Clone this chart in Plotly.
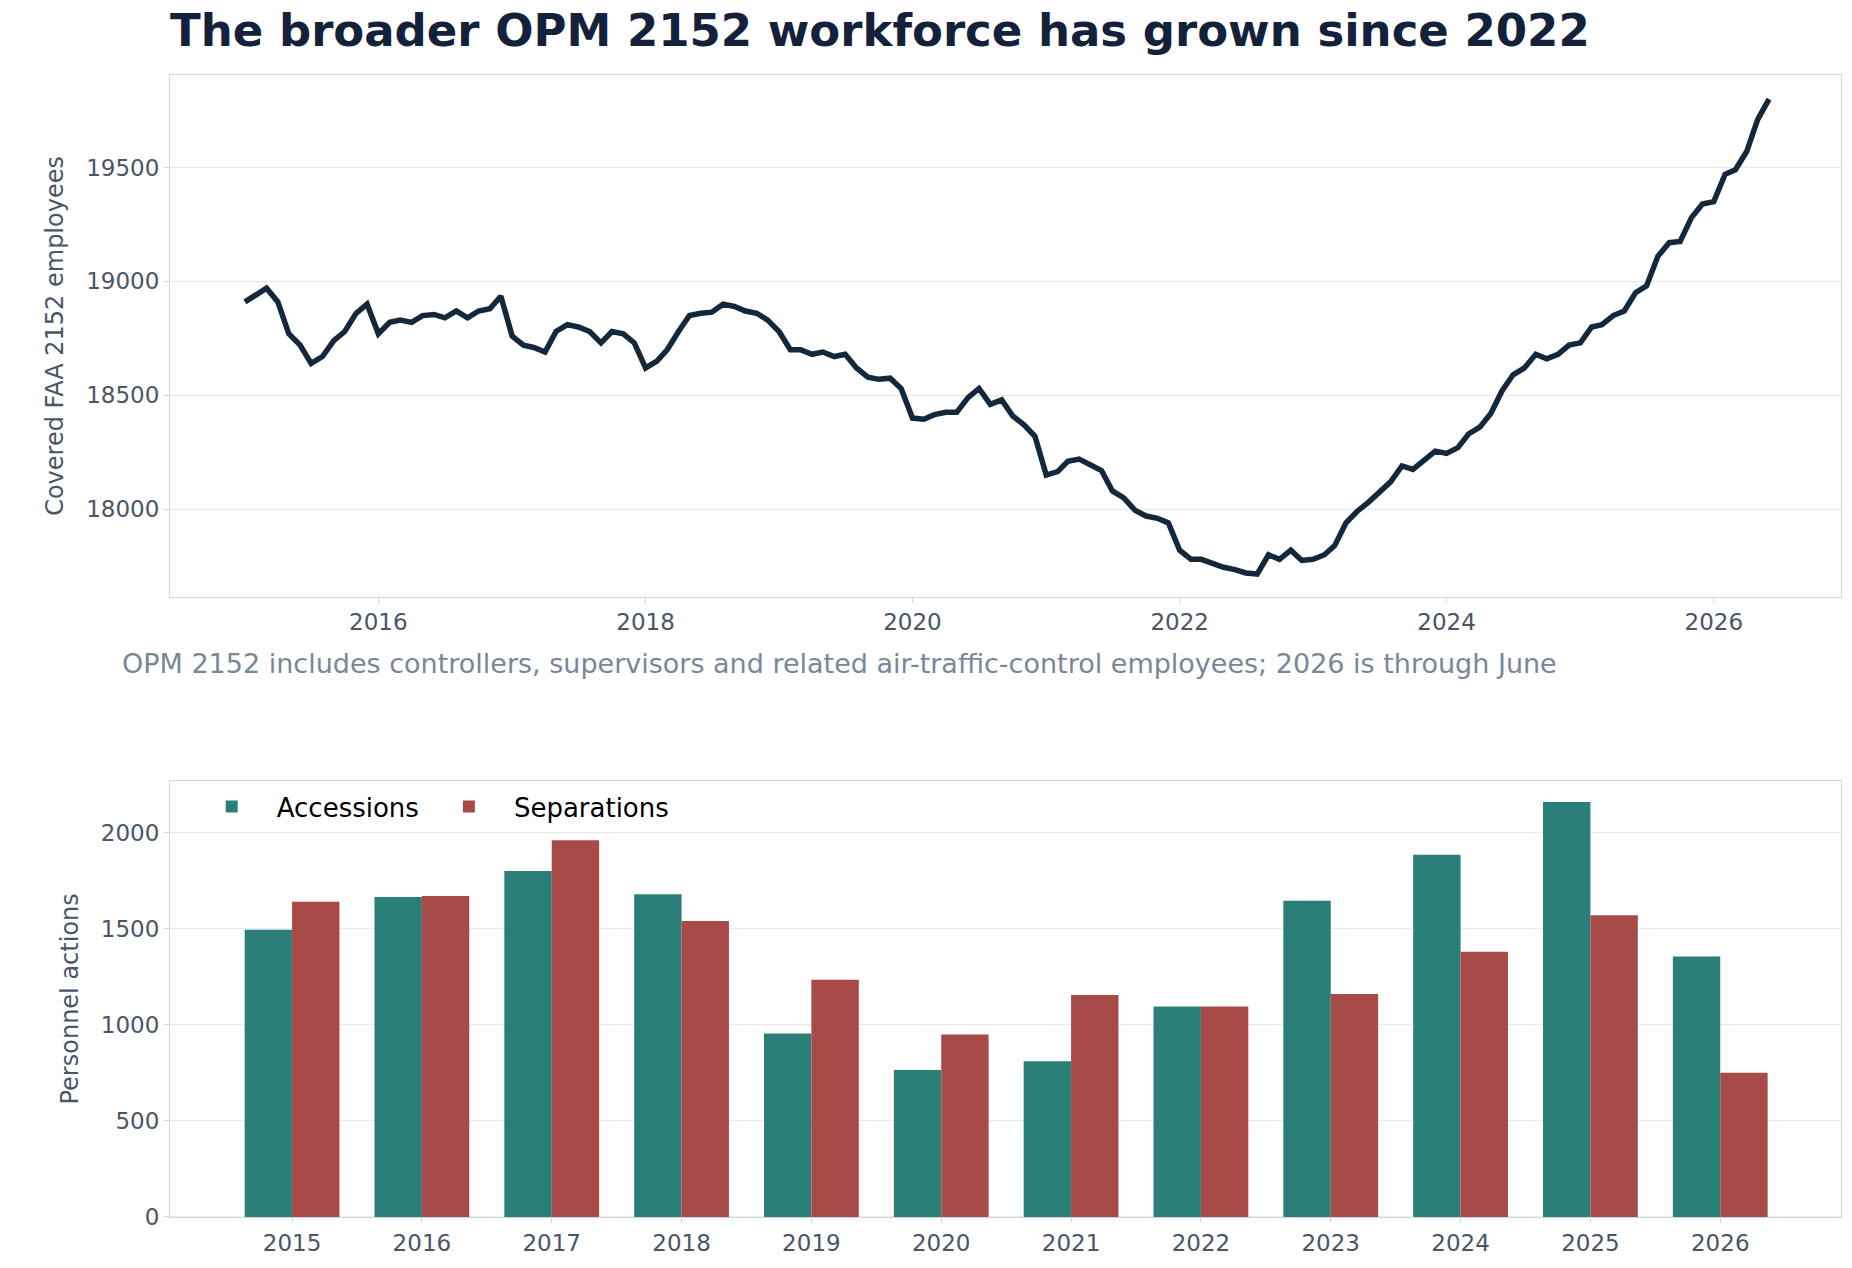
import pandas as pd
import plotly.graph_objects as go
from plotly.subplots import make_subplots

# Monthly headcount, Jan 2015 - Jun 2026
headcount = [
    18910, 18940, 18970, 18910, 18770, 18720, 18640, 18670, 18740, 18780, 18860, 18900,
    18770, 18820, 18830, 18820, 18850, 18855, 18840, 18870, 18840, 18870, 18880, 18935,
    18760, 18720, 18710, 18690, 18780, 18810, 18800, 18780, 18730, 18780, 18770, 18730,
    18620, 18650, 18700, 18780, 18850, 18860, 18865, 18900, 18890, 18870, 18860, 18830,
    18780, 18700, 18700, 18680, 18690, 18670, 18680, 18620, 18580, 18570, 18575, 18530,
    18400, 18395, 18415, 18425, 18425, 18490, 18530, 18460, 18480, 18410, 18370, 18320,
    18150, 18165, 18210, 18220, 18195, 18170, 18080, 18050, 17995, 17970, 17960, 17940,
    17820, 17780, 17780, 17760, 17745, 17735, 17720, 17715, 17800, 17780, 17820, 17775,
    17780, 17800, 17840, 17940, 17990, 18030, 18075, 18120, 18190, 18175, 18215, 18255,
    18245, 18270, 18330, 18360, 18420, 18520, 18590, 18620, 18680, 18660, 18680, 18720,
    18730, 18800, 18810, 18850, 18870, 18950, 18980, 19110, 19170, 19175, 19280, 19340,
    19350, 19470, 19490, 19570, 19710, 19800,
]
months = pd.date_range("2015-01-01", periods=len(headcount), freq="MS")

years = [str(y) for y in range(2015, 2027)]
accessions = [1495, 1665, 1800, 1680, 955, 765, 810, 1095, 1645, 1885, 2160, 1355]
separations = [1640, 1670, 1960, 1540, 1235, 950, 1155, 1095, 1160, 1380, 1570, 750]

TICK = "#4a5568"
GRID = "#e5e8ef"
FRAME = "#cfd5e2"

fig = make_subplots(rows=2, cols=1, vertical_spacing=0.16)
fig.add_trace(go.Scatter(x=months, y=headcount, mode="lines",
                         line=dict(color="#14283c", width=5.5), showlegend=False), row=1, col=1)
fig.add_trace(go.Bar(x=years, y=accessions, name="Accessions", marker_color="#2a7f78",
                     marker_line_width=0), row=2, col=1)
fig.add_trace(go.Bar(x=years, y=separations, name="Separations", marker_color="#a84a48",
                     marker_line_width=0), row=2, col=1)

axis_style = dict(showline=True, mirror=True, linecolor=FRAME, linewidth=1,
                  tickfont=dict(size=23, color=TICK), ticks="outside", tickcolor=FRAME)
fig.update_xaxes(**axis_style, showgrid=False)
fig.update_yaxes(**axis_style, showgrid=True, gridcolor=GRID, tickformat="d")

fig.update_xaxes(range=["2014-06-10", "2026-12-15"], dtick="M24", tick0="2016-01-01",
                 tickformat="%Y", row=1, col=1)
fig.update_yaxes(range=[17615, 19906], dtick=500, domain=[0.543, 1],
                 title=dict(text="Covered FAA 2152 employees", font=dict(size=24, color=TICK)),
                 row=1, col=1)
fig.update_xaxes(type="category", range=[-0.94, 11.93], row=2, col=1)
fig.update_yaxes(range=[0, 2270], dtick=500, domain=[0, 0.382],
                 title=dict(text="Personnel actions", font=dict(size=24, color=TICK)),
                 row=2, col=1)

fig.update_layout(
    width=1852, height=1268,
    template="plotly_white",
    font=dict(family="DejaVu Sans", color=TICK),
    plot_bgcolor="white",
    margin=dict(l=162, r=19, t=67, b=59),
    barmode="group", bargap=0.27, bargroupgap=0,
    title=dict(text="<b>The broader OPM 2152 workforce has grown since 2022</b>",
               x=0, xref="paper", xanchor="left", y=0.995, yanchor="top",
               font=dict(size=45, color="#14213a")),
    legend=dict(orientation="h", x=0.01, y=0.38, xref="paper", yref="paper",
                yanchor="top", xanchor="left", font=dict(size=26, color="black"),
                bgcolor="rgba(0,0,0,0)", itemwidth=80),
    annotations=[dict(text="OPM 2152 includes controllers, supervisors and related air-traffic-control employees; 2026 is through June",
                      x=-0.03, xref="paper", xanchor="left", y=0.485, yref="paper",
                      yanchor="middle", showarrow=False, font=dict(size=27, color="#7a8699"))],
)

fig.write_html("out.html")
